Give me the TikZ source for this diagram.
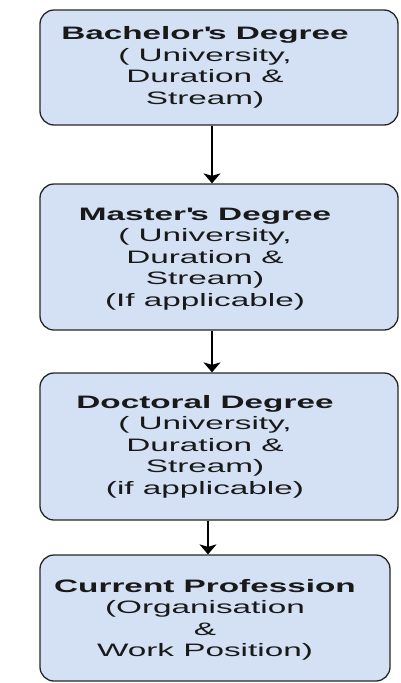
\documentclass[tikz,border=0pt]{standalone}
\usepackage{fontspec}
\setmainfont{Liberation Sans}[FakeStretch=1.85]
\usetikzlibrary{%
  arrows.meta,%
  positioning,% wg. " of "
  calc
}

\begin{document}
\begin{tikzpicture}
  [
  x=1pt, y=1pt,
  font=\fontsize{18}{21.5}\selectfont, >={Stealth[length=10pt,width=17pt,inset=2.5pt]}, line width=1.3pt,
  stage/.style={rectangle, draw=black!85, fill={rgb,255:red,212;green,224;blue,244}, rounded corners=14pt, minimum width=358pt, inner sep=0pt},
  caption/.style={align=center, inner sep=0pt, text=black!90}
  ]

\useasboundingbox (0,0) rectangle (400,-683);

% boxes
\node[stage, minimum height=115pt] (b1) at (219,-67.5) {};
\node[stage, minimum height=146pt] (b2) at (219,-257) {};
\node[stage, minimum height=147pt] (b3) at (219,-446.5) {};
\node[stage, minimum height=126pt, minimum width=350pt] (b4) at (215,-618) {};

% texts
\node[caption] (t1) at ([xshift=-14pt]b1.center) {\textbf{Bachelor\textquotesingle s Degree}\\( University,\\Duration \&\\Stream)};
\node[caption] (t2) at ([xshift=-14pt,yshift=-2pt]b2.center) {\textbf{Master\textquotesingle s Degree}\\( University,\\Duration \&\\Stream)\\(If applicable)};
\node[caption] (t3) at ([xshift=-14pt]b3.center) {\textbf{Doctoral Degree}\\( University,\\Duration \&\\Stream)\\(if applicable)};
\node[caption] (t4) at ([xshift=-10pt,yshift=-2pt]b4.center) {\textbf{Current Profession}\\(Organisation\\\&\\Work Position)};

% arrows
\draw[->] ([xshift=-7pt]b1.south) -- ([xshift=-7pt]b1.south |- b2.north);
\draw[->] ([xshift=-7pt]b2.south) -- ([xshift=-7pt]b2.south |- b3.north);
\draw[->] ([xshift=-11pt]b3.south) -- ([xshift=-11pt]b3.south |- b4.north);

\end{tikzpicture}
\end{document}
